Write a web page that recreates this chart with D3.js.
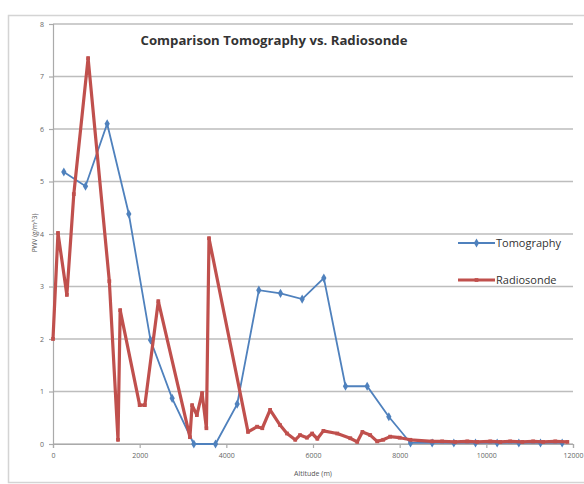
<!DOCTYPE html>
<html>
<head>
<meta charset="utf-8">
<script src="https://cdn.jsdelivr.net/npm/d3@7"></script>
<style>
	body { margin: 0; background: #fff; }
	text { font-family: "Open Sans", "Liberation Sans", sans-serif; }
</style>
</head>
<body>
<div id="chart"></div>
<script>
let WIDTH = 584;
let HEIGHT = 484;
let BLUE = "#4f81bd";
let RED = "#c0504d";

// altitude (m) / PWV
let tomoAlt = [250, 750, 1250, 1750, 2250, 2750, 3250, 3750, 4250, 4750, 5250, 5750,
	6250, 6750, 7250, 7750, 8250, 8750, 9250, 9750, 10250, 10750, 11250, 11750];
let tomoPwv = [5.18, 4.91, 6.1, 4.38, 1.98, 0.87, 0.0, 0.0, 0.76, 2.93, 2.87, 2.76,
	3.16, 1.1, 1.1, 0.52, 0.02, 0.02, 0.02, 0.02, 0.02, 0.02, 0.02, 0.02];

let radioAlt = [0, 115, 320, 480, 810, 1300, 1500, 1550, 2000, 2120, 2430, 3160, 3210, 3320,
	3440, 3540, 3600, 4500, 4710, 4830, 5010, 5240, 5400, 5590, 5700, 5860, 5980, 6100,
	6240, 6560, 6860, 7020, 7140, 7320, 7480, 7620, 7780, 8000, 8250, 8750, 8980, 9280,
	9560, 9790, 10090, 10320, 10550, 10830, 11080, 11310, 11590, 11870];
let radioPwv = [2.0, 4.02, 2.84, 4.76, 7.35, 3.1, 0.08, 2.55, 0.74, 0.74, 2.72, 0.13, 0.74, 0.55,
	0.97, 0.3, 3.92, 0.23, 0.33, 0.3, 0.65, 0.36, 0.2, 0.08, 0.17, 0.12, 0.2, 0.1,
	0.25, 0.2, 0.11, 0.04, 0.23, 0.17, 0.05, 0.08, 0.14, 0.12, 0.08, 0.05, 0.05, 0.04,
	0.05, 0.04, 0.05, 0.04, 0.05, 0.04, 0.05, 0.04, 0.05, 0.04];

let xTicks = [0, 2000, 4000, 6000, 8000, 10000, 12000];
let yTicks = [0, 1, 2, 3, 4, 5, 6, 7, 8];

let svg = d3.select("#chart").append("svg").
	attr("width", WIDTH).
	attr("height", HEIGHT);

// outer chart frame
svg.append("rect").
	attr("x", 8.5).
	attr("y", 15.5).
	attr("width", WIDTH).
	attr("height", 467).
	attr("fill", "none").
	attr("stroke", "#d4d4d4").
	attr("stroke-width", 1.5);

let x = d3.scaleLinear().domain([0, 12000]).range([53, 573]);
let y = d3.scaleLinear().domain([0, 8]).range([444, 24]);

svg.append("g").
	selectAll("line").
	data(yTicks).
	join("line").
	attr("x1", 53).
	attr("x2", 573).
	attr("y1", d => y(d)).
	attr("y2", d => y(d)).
	attr("stroke", "#bdbdbd").
	attr("stroke-width", 1.6);

let yAxis = svg.append("g").
	attr("transform", "translate(53,0)").
	call(d3.axisLeft(y).tickValues(yTicks).tickSize(4).tickPadding(5));
let xAxis = svg.append("g").
	attr("transform", "translate(0,444)").
	call(d3.axisBottom(x).tickValues(xTicks).tickSize(4).tickPadding(5).tickFormat(d3.format("d")));

[xAxis, yAxis].forEach(a => {
	a.selectAll("path, line").attr("stroke", "#aaa").attr("stroke-width", 1.2);
	a.selectAll("text").attr("fill", "#666").style("font-size", "7px");
});

svg.append("text").
	attr("x", 313).
	attr("y", 476).
	attr("text-anchor", "middle").
	attr("fill", "#555").
	style("font-size", "7px").
	text("Altitude (m)");

svg.append("text").
	attr("transform", "translate(37,233) rotate(-90)").
	attr("text-anchor", "middle").
	attr("fill", "#555").
	style("font-size", "6.5px").
	text("PWV (g/m^3)");

svg.append("text").
	attr("x", 274).
	attr("y", 45).
	attr("text-anchor", "middle").
	attr("fill", "#333").
	style("font-size", "13.2px").
	style("font-weight", "bold").
	text("Comparison Tomography vs. Radiosonde");

let line = d3.line().x(d => x(d[0])).y(d => y(d[1]));
let tomo = tomoAlt.map((a, i) => [a, tomoPwv[i]]);
let radio = radioAlt.map((a, i) => [a, radioPwv[i]]);
let diamond = d3.symbol().type(d3.symbolDiamond).size(24);
let square = d3.symbol().type(d3.symbolSquare).size(14);

svg.append("path").
	datum(tomo).
	attr("d", line).
	attr("fill", "none").
	attr("stroke", BLUE).
	attr("stroke-width", 1.8);

svg.append("g").
	selectAll("path").
	data(tomo).
	join("path").
	attr("d", diamond).
	attr("transform", d => `translate(${x(d[0])},${y(d[1])})`).
	attr("fill", BLUE);

svg.append("path").
	datum(radio).
	attr("d", line).
	attr("fill", "none").
	attr("stroke", RED).
	attr("stroke-width", 3.2).
	attr("stroke-linejoin", "round");

svg.append("g").
	selectAll("path").
	data(radio).
	join("path").
	attr("d", square).
	attr("transform", d => `translate(${x(d[0])},${y(d[1])})`).
	attr("fill", RED);

// legend
let legend = svg.append("g").
	selectAll("g").
	data([["Tomography", BLUE, 1.8, diamond], ["Radiosonde", RED, 3.2, square]]).
	join("g").
	attr("transform", (d, i) => `translate(458,${243 + i * 37})`);

legend.append("line").
	attr("x1", 0).
	attr("x2", 37).
	attr("stroke", d => d[1]).
	attr("stroke-width", d => d[2]);
legend.append("path").
	attr("d", d => d[3]()).
	attr("transform", "translate(18.5,0)").
	attr("fill", d => d[1]);
legend.append("text").
	attr("x", 38).
	attr("dy", "0.35em").
	attr("fill", "#333").
	style("font-size", "11px").
	text(d => d[0]);
</script>
</body>
</html>
